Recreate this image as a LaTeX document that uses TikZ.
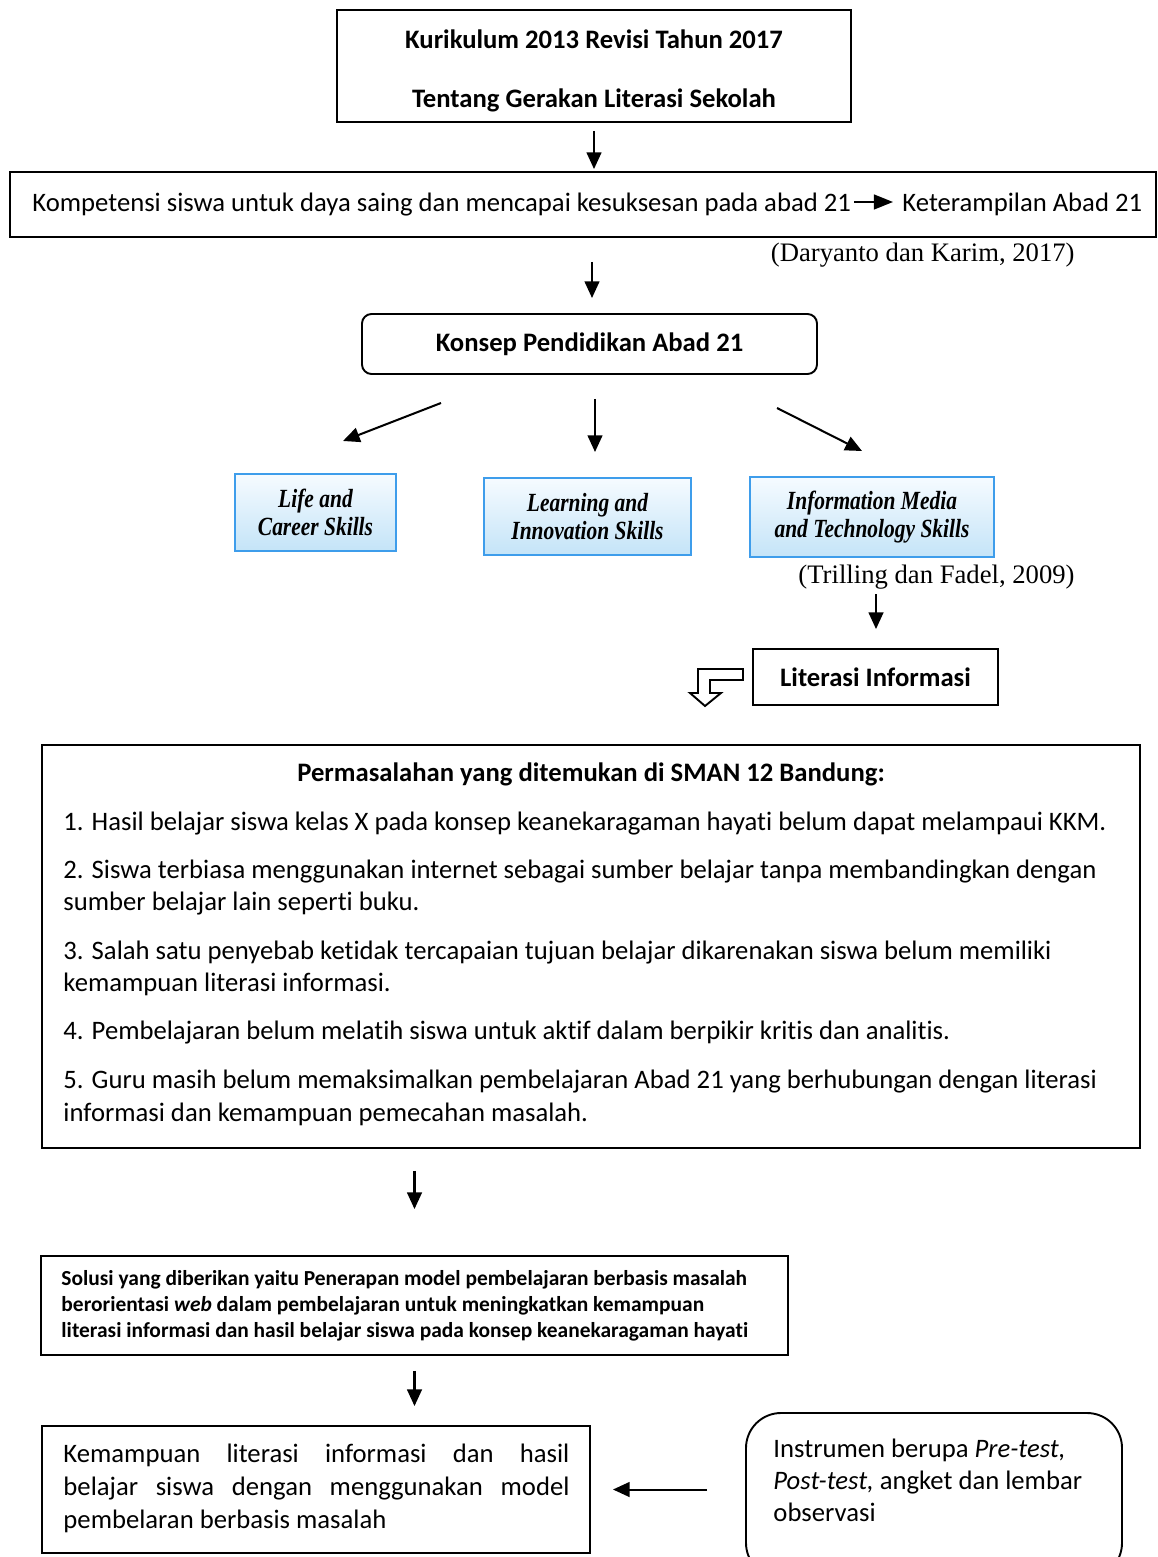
\documentclass[tikz,border=0pt]{standalone}
\usepackage{fontspec}
\setmainfont{Carlito}[Ligatures=CommonOff]
\newfontfamily\timesf{Liberation Serif}
\newfontfamily\skillf[FakeStretch=0.82]{Liberation Serif}
\usetikzlibrary{arrows.meta,calc}
\definecolor{skillborder}{HTML}{3E9DEB}
\definecolor{skilltop}{HTML}{F6FBFF}
\definecolor{skillbot}{HTML}{C4E4F8}
\newcommand\pxx[1]{#1*0.42pt}
\begin{document}
\fontsize{11.2}{13.5}\selectfont
\begin{tikzpicture}[x=0.42pt,y=-0.42pt,
  box/.style={draw=black, line width=0.8pt, inner sep=0pt},
  skill/.style={draw=skillborder, line width=1.2pt, top color=skilltop, bottom color=skillbot, align=center, inner sep=0pt,
    font=\skillf\bfseries\itshape\fontsize{11}{11.8}\selectfont},
  arr/.style={line width=0.85pt, -{Triangle[length=7pt,width=6.2pt]}},
  txt/.style={anchor=base west, inner sep=0pt},
  cite/.style={anchor=east, inner sep=0pt, font=\timesf\fontsize{11.2}{13}\selectfont},
  soltxt/.style={anchor=base west, inner sep=0pt, font=\bfseries\fontsize{9}{11}\selectfont}]
\useasboundingbox (0,0) rectangle (1157,1557);
\clip (0,0) rectangle (1157,1557);
\fill[white] (0,0) rectangle (1157,1557);

% top box
\node[box, minimum width=\pxx{514}, minimum height=\pxx{112}, align=center, font=\bfseries] (top) at (594,66)
  {\rule{0pt}{11.8pt}Kurikulum 2013 Revisi Tahun 2017\\[11.3pt]Tentang Gerakan Literasi Sekolah};

% competence box
\node[box, minimum width=\pxx{1146}, minimum height=\pxx{65}] (komp) at (583,204.5) {};
\node[txt] (kompa) at (32,212) {Kompetensi siswa untuk daya saing dan mencapai kesuksesan pada abad 21};
\node[txt] (kompb) at (902,212) {Keterampilan Abad 21};
\draw[line width=0.85pt, -{Triangle[length=8pt,width=6.2pt]}] (kompa.east |- 0,202) ++(3,0) -- (893,202);
\draw[arr, shorten <=\pxx{8}, shorten >=\pxx{2}] (top.south) -- (top.south |- komp.north);

\node[cite] (cite1) at (1075,255) {(Daryanto dan Karim, 2017)};

% concept
\node[box, rounded corners=4pt, minimum width=\pxx{455}, minimum height=\pxx{60}, font=\bfseries] (konsep) at (589.5,344) {Konsep Pendidikan Abad 21};
\coordinate (a2s) at (592,262);
\coordinate (a2e) at (592,298);
\draw[arr] (a2s) -- (a2e);

% skills
\node[skill, minimum width=\pxx{161}, minimum height=\pxx{77}] (life) at (315.5,512.5) {Life and\\Career Skills};
\node[skill, minimum width=\pxx{207}, minimum height=\pxx{77}] (learn) at (587.5,516.5) {Learning and\\Innovation Skills};
\node[skill, minimum width=\pxx{244}, minimum height=\pxx{80}] (info) at (872,517) {Information Media\\and Technology Skills};

\coordinate (d1s) at (441,403); \coordinate (d1e) at (343,441);
\coordinate (d2s) at (595,399); \coordinate (d2e) at (595,452);
\coordinate (d3s) at (777,408); \coordinate (d3e) at (862,451);
\draw[arr] (d1s) -- (d1e);
\draw[arr] (d2s) -- (d2e);
\draw[arr] (d3s) -- (d3e);

\node[cite] (cite2) at (1075,577) {(Trilling dan Fadel, 2009)};

% literasi
\node[box, minimum width=\pxx{245}, minimum height=\pxx{56}, font=\bfseries] (lit) at (875.5,677) {Literasi Informasi};
\coordinate (a3s) at (876,594);
\draw[arr, shorten >=\pxx{19}] (a3s) -- (a3s |- lit.north);

% hollow bent arrow
\draw[line width=0.8pt, fill=white, line join=miter]
  (743,669) -- (698,669) -- (698,693) -- (690,693) -- (705,706) -- (721,693) -- (710,693) -- (710,680) -- (743,680) -- cycle;

% problem box
\node[box, minimum width=\pxx{1098}, minimum height=\pxx{403}] (prob) at (591,946.5) {};
\node[anchor=base, inner sep=0pt, font=\bfseries] (ptitle) at (591,781) {Permasalahan yang ditemukan di SMAN 12 Bandung:};
\node[txt] (p1) at (63,830) {1. Hasil belajar siswa kelas X pada konsep keanekaragaman hayati belum dapat melampaui KKM.};
\node[txt] (p2a) at (63,878) {2. Siswa terbiasa menggunakan internet sebagai sumber belajar tanpa membandingkan dengan};
\node[txt] (p2b) at (63,910) {sumber belajar lain seperti buku.};
\node[txt] (p3a) at (63,959) {3. Salah satu penyebab ketidak tercapaian tujuan belajar dikarenakan siswa belum memiliki};
\node[txt] (p3b) at (63,991) {kemampuan literasi informasi.};
\node[txt] (p4) at (63,1039) {4. Pembelajaran belum melatih siswa untuk aktif dalam berpikir kritis dan analitis.};
\node[txt] (p5a) at (63,1088) {5. Guru masih belum memaksimalkan pembelajaran Abad 21 yang berhubungan dengan literasi};
\node[txt] (p5b) at (63,1121) {informasi dan kemampuan pemecahan masalah.};

% solution box
\node[box, minimum width=\pxx{747}, minimum height=\pxx{99}] (sol) at (414.5,1305.5) {};
\node[soltxt] (s1) at (61,1285) {Solusi yang diberikan yaitu Penerapan model pembelajaran berbasis masalah};
\node[soltxt] (s2) at (61,1311) {berorientasi \textit{web} dalam pembelajaran untuk meningkatkan kemampuan};
\node[soltxt] (s3) at (61,1337) {literasi informasi dan hasil belajar siswa pada konsep keanekaragaman hayati};
\draw[arr, shorten <=\pxx{22}, shorten >=\pxx{46}] (sol.north |- prob.south) -- (sol.north);

% result box
\node[box, minimum width=\pxx{548}, minimum height=\pxx{127}] (kem) at (316,1489.5) {};
\node[anchor=north west, inner sep=0pt, text width=\pxx{506}, align=justify, font=\fontsize{11.2}{13.86}\selectfont] (kemt) at (63,1443)
  {Kemampuan literasi informasi dan hasil\linebreak belajar siswa dengan menggunakan model\linebreak pembelaran berbasis masalah};
\draw[arr, shorten <=\pxx{15}, shorten >=\pxx{19}] (sol.south) -- (sol.south |- kem.north);

% instrument box
\node[box, rounded corners=\pxx{35}, minimum width=\pxx{376}, minimum height=\pxx{165}] (ins) at (934,1495.5) {};
\node[txt] (i1) at (773,1457) {Instrumen berupa \textit{Pre-test,}};
\node[txt] (i2) at (773,1489) {\textit{Post-test,} angket dan lembar};
\node[txt] (i3) at (773,1521) {observasi};
\draw[arr, shorten <=\pxx{38}, shorten >=\pxx{22}] (ins.west |- kem.east) -- (kem.east);
\end{tikzpicture}
\end{document}
